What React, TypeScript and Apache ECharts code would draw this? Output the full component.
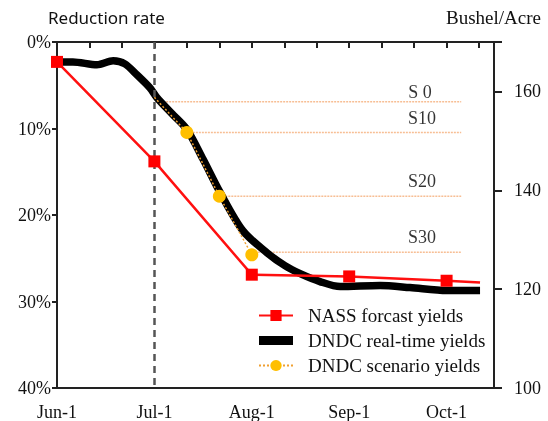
import React, { useEffect, useRef } from "react";
import * as echarts from "echarts";

// x unit = one tick (~10 days); 0 = Jun-1
const xLabelPos = [0, 3, 6, 9, 12];
const xLabelText = ["Jun-1", "Jul-1", "Aug-1", "Sep-1", "Oct-1"];

const nassX = [0, 3, 6, 9, 12, 13.03];
const nassY = [2.3, 13.8, 26.9, 27.1, 27.6, 27.8];

const dndcX = [0, 0.49, 1.23, 1.73, 2.09, 2.46, 2.86, 3.08, 3.54, 4.0, 4.5, 5.02, 5.73, 6.47, 7.02, 7.49, 8.1, 8.72, 9.95, 10.87, 12.01, 13.03];
const dndcY = [2.3, 2.3, 2.64, 2.18, 2.53, 3.79, 5.29, 6.44, 8.28, 10.11, 13.56, 17.36, 21.84, 24.37, 25.86, 26.78, 27.7, 28.28, 28.16, 28.39, 28.74, 28.74];

const scenX = [3.0, 4.0, 5.0, 6.0];
const scenY = [6.4, 10.46, 17.82, 24.6];

const sNames = ["S 0", "S10", "S20", "S30"];
const sLineStart = [3.27, 4.0, 5.0, 6.0];
const sLineEnd = 12.45;
const sLineY = [6.9, 10.46, 17.82, 24.3];
const sLabelX = [11.18, 11.24, 11.24, 11.24];
const sLabelY = [5.8, 8.74, 16.03, 22.59];

const rightTicks = [100, 120, 140, 160];

const SERIF = "Liberation Serif";

export default function App() {
  const ref = useRef<HTMLDivElement>(null);
  useEffect(() => {
    if (!ref.current) return;
    const chart = echarts.init(ref.current, null, { renderer: "svg" });
    const sLineSeries = sNames.map((n, i) => ({
      name: "line-" + n,
      type: "line",
      data: [
        [sLineStart[i], sLineY[i]],
        [sLineEnd, sLineY[i]],
      ],
      symbol: "none",
      lineStyle: { color: "#f7be94", width: 1.5, type: [2, 1] },
      z: 2,
      silent: true,
    }));
    chart.setOption({
      animation: false,
      grid: { left: 57, right: 54, top: 42, bottom: 31, show: true, borderColor: "#222", borderWidth: 2 },
      graphic: [
        {
          type: "text",
          left: 48,
          top: 9,
          style: { text: "Reduction rate", font: "17px 'Noto Sans'", fill: "#111" },
        },
        {
          type: "text",
          right: 7,
          top: 8,
          style: { text: "Bushel/Acre", font: `19px '${SERIF}'`, fill: "#111" },
        },
      ],
      legend: {
        orient: "vertical",
        left: 258,
        top: 306,
        padding: 0,
        itemGap: 6,
        itemWidth: 34,
        itemHeight: 14,
        textStyle: { fontFamily: SERIF, fontSize: 19, color: "#111", padding: [0, 0, 0, 10] },
        data: [
          { name: "NASS forcast yields" },
          { name: "DNDC real-time yields", icon: "path://M0,0 L30,0 L30,8 L0,8 Z" },
          { name: "DNDC scenario yields" },
        ],
      },
      xAxis: {
        type: "value",
        min: 0,
        max: 13.46,
        interval: 1,
        splitLine: { show: false },
        axisLine: { lineStyle: { color: "#222", width: 2 } },
        axisTick: { show: true, length: 6, lineStyle: { color: "#222", width: 2 } },
        axisLabel: {
          margin: 15,
          fontFamily: SERIF,
          fontSize: 18,
          color: "#111",
          formatter: (v: number) => {
            const idx = xLabelPos.indexOf(Math.round(v));
            return idx >= 0 && Math.abs(v - Math.round(v)) < 1e-6 ? xLabelText[idx] : "";
          },
        },
      },
      yAxis: [
        {
          type: "value",
          min: 0,
          max: 40,
          interval: 10,
          inverse: true,
          position: "left",
          splitLine: { show: false },
          axisLine: { show: true, lineStyle: { color: "#222", width: 2 } },
          axisTick: { show: true, length: 5, lineStyle: { color: "#222", width: 2 } },
          axisLabel: { margin: 6, fontFamily: SERIF, fontSize: 18, color: "#111", formatter: "{value}%" },
        },
        {
          type: "value",
          min: 100,
          max: 170,
          interval: 20,
          position: "right",
          splitLine: { show: false },
          axisLine: { show: true, lineStyle: { color: "#222", width: 2 } },
          axisTick: { show: true, length: 8, lineStyle: { color: "#222", width: 2 } },
          axisLabel: {
            margin: 20,
            fontFamily: SERIF,
            fontSize: 18,
            color: "#111",
            formatter: (v: number) => (rightTicks.indexOf(v) >= 0 ? String(v) : ""),
          },
        },
      ],
      series: [
        {
          name: "DNDC real-time yields",
          type: "line",
          data: dndcX.map((x, i) => [x, dndcY[i]]),
          symbol: "none",
          smooth: 0.3,
          lineStyle: { color: "#000", width: 7.5 },
          itemStyle: { color: "#000" },
          z: 3,
          markLine: {
            silent: true,
            symbol: "none",
            label: { show: false },
            lineStyle: { color: "#555", width: 2.5, type: [7, 5] },
            data: [{ xAxis: 3 }],
          },
        },
        ...sLineSeries,
        {
          name: "DNDC scenario yields",
          type: "line",
          data: scenX.map((x, i) => (i === 0 ? { value: [x, scenY[i]], symbol: "none" } : [x, scenY[i]])),
          symbol: "circle",
          symbolSize: 13,
          itemStyle: { color: "#ffbf00" },
          lineStyle: { color: "#f0a030", width: 1.5, type: [2, 2] },
          z: 4,
        },
        {
          name: "NASS forcast yields",
          type: "line",
          data: nassX.map((x, i) => (i === nassX.length - 1 ? { value: [x, nassY[i]], symbol: "none" } : [x, nassY[i]])),
          symbol: "rect",
          symbolSize: 12,
          itemStyle: { color: "#ff0000" },
          lineStyle: { color: "#ff1010", width: 2.5 },
          z: 5,
        },
        {
          name: "labels",
          type: "scatter",
          data: sNames.map((n, i) => [sLabelX[i], sLabelY[i], n]),
          symbolSize: 0,
          silent: true,
          label: {
            show: true,
            position: "inside",
            formatter: (p: any) => p.value[2],
            fontFamily: SERIF,
            fontSize: 18,
            color: "#000",
          },
          z: 6,
        },
      ],
    });
    return () => chart.dispose();
  }, []);
  return <div ref={ref} style={{ position: "fixed", left: 0, top: 0, width: 548, height: 421 }} />;
}
